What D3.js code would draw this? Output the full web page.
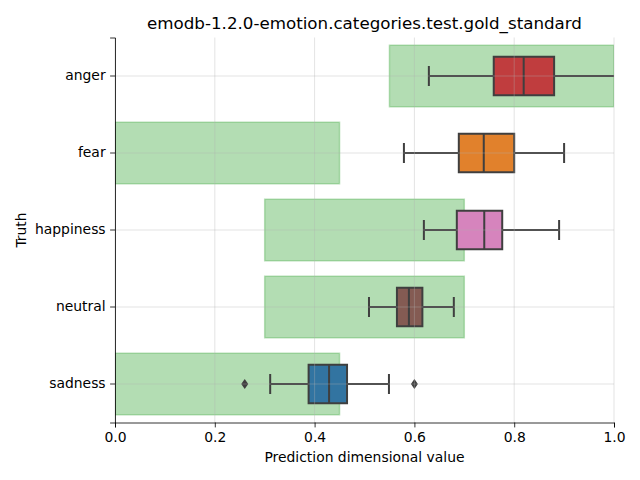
<!DOCTYPE html>
<html><head><meta charset="utf-8">
<script src="https://cdn.jsdelivr.net/npm/d3@7"></script>
<style>body{margin:0;background:#fff}svg{font-family:"DejaVu Sans",sans-serif}</style>
</head><body><svg id="c" width="640" height="480"></svg>
<script>
const categories = ["anger","fear","happiness","neutral","sadness"];
const colors = ["#c03d3e","#e1812c","#d684bd","#845b53","#3274a1"];
const whiskerLow = [0.629,0.579,0.619,0.509,0.311];
const q1 = [0.759,0.689,0.685,0.565,0.388];
const median = [0.819,0.739,0.740,0.589,0.429];
const q3 = [0.880,0.800,0.776,0.616,0.465];
const whiskerHigh = [1.03,0.900,0.890,0.679,0.549];
const outliers = [[],[],[],[],[0.26,0.60]];
const rangeLow = [0.55,0.0,0.3,0.3,0.0];
const rangeHigh = [1.0,0.45,0.7,0.7,0.45];
const xTicks = [0,0.2,0.4,0.6,0.8,1.0];

const svg = d3.select("#c");
const L=115,R=614,T=37.5,B=422.5;
const x = d3.scaleLinear().domain([0,1]).range([L,R]);
const y = d3.scaleBand().domain(categories).range([T,B]);
const bw = y.bandwidth();
const cy = c => y(c)+bw/2;

svg.append("clipPath").attr("id","clip").append("rect").attr("x",L).attr("y",T).attr("width",R-L).attr("height",B-T);
const g = svg.append("g").attr("clip-path","url(#clip)");

categories.forEach((c,i)=>{
  g.append("rect").attr("x",x(rangeLow[i])).attr("width",x(rangeHigh[i])-x(rangeLow[i]))
   .attr("y",cy(c)-bw*0.4).attr("height",bw*0.8)
   .attr("fill","#2ca02c").attr("fill-opacity",0.36)
   .attr("stroke","#2ca02c").attr("stroke-opacity",0.3).attr("stroke-width",1.5);
});

const lc="#3f3f3f";
categories.forEach((c,i)=>{
  const m=cy(c), h=bw*0.5, cap=bw*0.13;
  g.append("line").attr("x1",x(whiskerLow[i])).attr("x2",x(q1[i])).attr("y1",m).attr("y2",m).attr("stroke",lc).attr("stroke-width",2);
  g.append("line").attr("x1",x(q3[i])).attr("x2",x(whiskerHigh[i])).attr("y1",m).attr("y2",m).attr("stroke",lc).attr("stroke-width",2);
  [whiskerLow[i],whiskerHigh[i]].forEach(v=>{
    g.append("line").attr("x1",x(v)).attr("x2",x(v)).attr("y1",m-cap).attr("y2",m+cap).attr("stroke",lc).attr("stroke-width",2);
  });
  g.append("rect").attr("x",x(q1[i])).attr("width",x(q3[i])-x(q1[i])).attr("y",m-h/2).attr("height",h)
   .attr("fill",colors[i]).attr("stroke",lc).attr("stroke-width",2);
  g.append("line").attr("x1",x(median[i])).attr("x2",x(median[i])).attr("y1",m-h/2).attr("y2",m+h/2).attr("stroke",lc).attr("stroke-width",2);
  outliers[i].forEach(v=>{
    g.append("path").attr("d",`M${x(v)},${m-5} L${x(v)+3.5},${m} L${x(v)},${m+5} L${x(v)-3.5},${m} Z`).attr("fill",lc);
  });
});

const grid = svg.append("g");
xTicks.forEach(t=>grid.append("line").attr("x1",x(t)).attr("x2",x(t)).attr("y1",T).attr("y2",B).attr("stroke","#b0b0b0").attr("stroke-opacity",0.45).attr("stroke-width",0.8));
categories.forEach(c=>grid.append("line").attr("x1",L).attr("x2",R).attr("y1",cy(c)).attr("y2",cy(c)).attr("stroke","#b0b0b0").attr("stroke-opacity",0.45).attr("stroke-width",0.8));

const xa = svg.append("g").attr("transform",`translate(0,${B})`)
  .call(d3.axisBottom(x).tickValues(xTicks).tickFormat(d3.format(".1f")).tickSizeOuter(0).tickSize(4.9).tickPadding(4.5));
const ya = svg.append("g").attr("transform",`translate(${L},0)`)
  .call(d3.axisLeft(y).tickSizeOuter(0).tickSize(4.9).tickPadding(4.5));
[xa,ya].forEach(a=>{
  a.selectAll("text").attr("font-size","13.9px").attr("fill","#000").attr("font-family","DejaVu Sans");
  a.selectAll("line").attr("stroke","#000").attr("stroke-width",0.8);
  a.select(".domain").attr("stroke","#000").attr("stroke-width",0.8);
});

svg.append("text").attr("x",(L+R)/2).attr("y",462).attr("text-anchor","middle").attr("font-size","13.9px").text("Prediction dimensional value");
svg.append("text").attr("transform",`translate(26,${(T+B)/2}) rotate(-90)`).attr("text-anchor","middle").attr("font-size","13.9px").text("Truth");
svg.append("text").attr("x",(L+R)/2).attr("y",29).attr("text-anchor","middle").attr("font-size","16.7px").text("emodb-1.2.0-emotion.categories.test.gold_standard");
</script></body></html>
